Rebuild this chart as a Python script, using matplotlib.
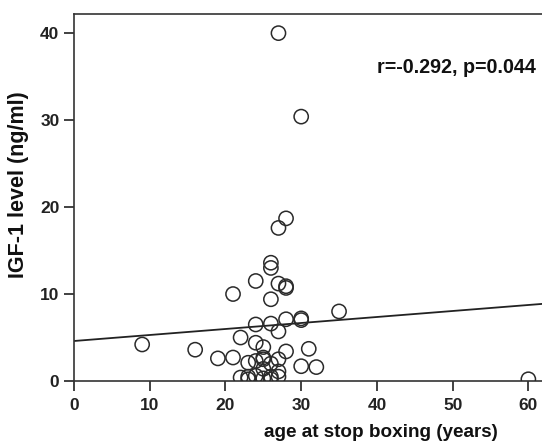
import numpy as np
import matplotlib
matplotlib.use('Agg')
import matplotlib.pyplot as plt

plt.rcParams['font.family'] = ['Liberation Sans', 'DejaVu Sans']
plt.rcParams['font.weight'] = 'bold'

# data: age at stop boxing (years) vs IGF-1 (ng/ml)
age = [27, 30, 28, 27, 26, 26, 24, 27, 28, 28,
       21, 26, 35, 24, 26, 28, 30, 30, 27, 22,
       24, 9, 16, 25, 28, 31, 19, 21, 23, 24,
       25, 25, 27, 26, 30, 32, 25, 27, 22, 23,
       24, 25, 26, 26, 27, 23, 60]
igf1 = [40.0, 30.4, 18.7, 17.6, 13.6, 13.0, 11.5, 11.2, 10.9, 10.7,
        10.0, 9.4, 8.0, 6.5, 6.6, 7.1, 7.2, 7.0, 5.7, 5.0,
        4.4, 4.2, 3.6, 3.9, 3.4, 3.7, 2.6, 2.7, 2.1, 2.3,
        2.7, 2.5, 2.5, 2.0, 1.7, 1.6, 1.4, 1.1, 0.4, 0.5,
        0.6, 0.3, 0.5, 0.2, 0.5, 0.2, 0.2]

# fit line as drawn in the figure
fit_intercept = 4.6
fit_slope = 0.069
stat_text = 'r=-0.292, p=0.044'

xticks = [0, 10, 20, 30, 40, 50, 60]
yticks = [0, 10, 20, 30, 40]

W, H = 542, 443
fig = plt.figure(figsize=(W / 100, H / 100), dpi=100)
ax = fig.add_axes([74 / W, (H - 381) / H, (W - 74) / W, (381 - 14) / H])

ax.scatter(age, igf1, s=105, facecolors='none', edgecolors='#2a2a2a',
           linewidths=1.1, zorder=3)

xl = np.array([0, 61.8])
ax.plot(xl, fit_intercept + fit_slope * xl, color='#222222', lw=1.3, zorder=2)

ax.set_xlim(0, 61.8)
ax.set_ylim(0, 42.2)
ax.set_xticks(xticks)
ax.set_yticks(yticks)

for s in ['left', 'bottom', 'top']:
    ax.spines[s].set_linewidth(1.2)
    ax.spines[s].set_color('#333333')
ax.spines['right'].set_visible(False)

ax.tick_params(direction='out', length=7, width=1.3, color='#333333',
               labelsize=12.5, labelcolor='#222222')
ax.tick_params(axis='x', pad=5)
ax.tick_params(axis='y', pad=3.5)
for lab in ax.get_xticklabels() + ax.get_yticklabels():
    lab.set_fontweight('bold')

fig.text(381 / W, (H - 437) / H, 'age at stop boxing (years)', fontsize=13.6,
         fontweight='bold', color='#111111', ha='center', va='baseline')
fig.text(19 / W, (H - 185) / H, 'IGF-1 level (ng/ml)', fontsize=15.5,
         fontweight='bold', color='#111111', ha='center', va='center',
         rotation=90)

ax.text(40, 36, stat_text, fontsize=14.2, fontweight='bold', color='#111111',
        ha='left', va='center')

fig.savefig('out.png', dpi=100)
